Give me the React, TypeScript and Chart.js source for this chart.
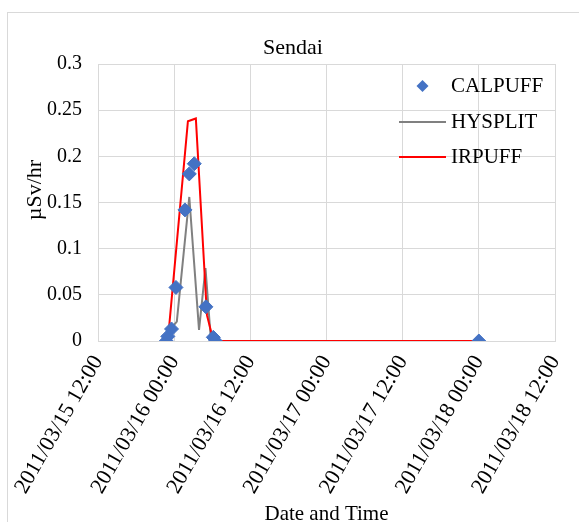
import React, { useEffect, useRef } from "react";
import { Chart, registerables } from "chart.js";

Chart.register(...registerables);

// Axis ticks
const X_TICK_LABELS = [
  "2011/03/15 12:00",
  "2011/03/16 00:00",
  "2011/03/16 12:00",
  "2011/03/17 00:00",
  "2011/03/17 12:00",
  "2011/03/18 00:00",
  "2011/03/18 12:00",
];
const Y_TICKS = [0, 0.05, 0.1, 0.15, 0.2, 0.25, 0.3];

// CALPUFF (markers only)
const CALPUFF_TIMES = [
  "2011/03/15 22:45",
  "2011/03/15 23:00",
  "2011/03/15 23:35",
  "2011/03/16 00:17",
  "2011/03/16 01:42",
  "2011/03/16 02:23",
  "2011/03/16 03:10",
  "2011/03/16 05:00",
  "2011/03/16 06:10",
  "2011/03/16 06:30",
  "2011/03/18 00:00",
];
const CALPUFF_VALUES = [0.0, 0.005, 0.013, 0.058, 0.142, 0.181, 0.192, 0.037, 0.004, 0.0, 0.0];

// HYSPLIT (grey line)
const HYSPLIT_TIMES = [
  "2011/03/15 22:45",
  "2011/03/15 23:05",
  "2011/03/15 23:55",
  "2011/03/16 00:25",
  "2011/03/16 02:23",
  "2011/03/16 03:55",
  "2011/03/16 04:56",
  "2011/03/16 05:48",
  "2011/03/18 00:00",
];
const HYSPLIT_VALUES = [0.0, 0.015, 0.017, 0.021, 0.156, 0.012, 0.079, 0.0, 0.0];

// IRPUFF (red line)
const IRPUFF_TIMES = [
  "2011/03/15 23:00",
  "2011/03/16 02:10",
  "2011/03/16 03:25",
  "2011/03/16 05:10",
  "2011/03/16 06:05",
  "2011/03/16 06:35",
  "2011/03/18 00:00",
];
const IRPUFF_VALUES = [0.0, 0.238, 0.241, 0.028, 0.003, 0.0, 0.0];

const Y_TITLE = "µSv/hr";
const FONT = "'Liberation Serif', 'Times New Roman', serif";
const GRID = "#d9d9d9";

// hours elapsed since the first x tick
function toMs(s: string): number {
  const [d, t] = s.split(" ");
  const [y, mo, da] = d.split("/").map(Number);
  const [h, mi] = t.split(":").map(Number);
  return Date.UTC(y, mo - 1, da, h, mi);
}
const ORIGIN = toMs(X_TICK_LABELS[0]);
const hours = (s: string) => (toMs(s) - ORIGIN) / 3600000;
const toPoints = (times: string[], values: number[]) =>
  times.map((t, i) => ({ x: hours(t), y: values[i] }));

// white page and the light outer frame of the chart
const frame = {
  id: "frame",
  beforeDraw(chart: any) {
    const { ctx, width, height } = chart;
    ctx.save();
    ctx.fillStyle = "#ffffff";
    ctx.fillRect(0, 0, width, height);
    ctx.strokeStyle = GRID;
    ctx.lineWidth = 1;
    ctx.strokeRect(7.5, 12.5, width + 20, height + 20);
    ctx.restore();
  },
};

// vertical axis title, sitting a little above the middle of the plot
const yTitle = {
  id: "yTitle",
  afterDraw(chart: any) {
    const { ctx, chartArea } = chart;
    ctx.save();
    ctx.translate(35, chartArea.top + 126);
    ctx.rotate(-Math.PI / 2);
    ctx.font = `22px ${FONT}`;
    ctx.fillStyle = "#000";
    ctx.textAlign = "center";
    ctx.textBaseline = "middle";
    ctx.fillText(Y_TITLE, 0, 0);
    ctx.restore();
  },
};

// legend inside the plot, top right
const insideLegend = {
  id: "insideLegend",
  afterDatasetsDraw(chart: any) {
    const { ctx, chartArea } = chart;
    const x0 = chartArea.right - 156;
    const x1 = chartArea.right - 109;
    const tx = chartArea.right - 104;
    const rows = [chartArea.top + 22, chartArea.top + 58, chartArea.top + 93];
    ctx.save();
    ctx.font = `21px ${FONT}`;
    ctx.textBaseline = "middle";
    ctx.textAlign = "left";
    chart.data.datasets.forEach((ds: any, i: number) => {
      const y = rows[i];
      if (ds.showLine === false) {
        const cx = (x0 + x1) / 2;
        const r = 6;
        ctx.fillStyle = ds.backgroundColor;
        ctx.beginPath();
        ctx.moveTo(cx - r, y);
        ctx.lineTo(cx, y - r);
        ctx.lineTo(cx + r, y);
        ctx.lineTo(cx, y + r);
        ctx.closePath();
        ctx.fill();
      } else {
        ctx.strokeStyle = ds.borderColor;
        ctx.lineWidth = ds.borderWidth;
        ctx.beginPath();
        ctx.moveTo(x0, y);
        ctx.lineTo(x1, y);
        ctx.stroke();
      }
      ctx.fillStyle = "#000";
      ctx.fillText(ds.label, tx, y);
    });
    ctx.restore();
  },
};

export default function App() {
  const ref = useRef<HTMLCanvasElement>(null);

  useEffect(() => {
    if (!ref.current) return;
    Chart.defaults.font.family = FONT;
    Chart.defaults.color = "#000";
    const chart = new Chart(ref.current, {
      type: "scatter",
      data: {
        datasets: [
          {
            label: "CALPUFF",
            data: toPoints(CALPUFF_TIMES, CALPUFF_VALUES),
            showLine: false,
            pointStyle: "rectRot",
            pointRadius: 7,
            backgroundColor: "#4472c4",
            borderColor: "#4472c4",
            borderWidth: 1,
            order: 0,
          },
          {
            label: "HYSPLIT",
            data: toPoints(HYSPLIT_TIMES, HYSPLIT_VALUES),
            showLine: true,
            pointRadius: 0,
            borderColor: "#808080",
            backgroundColor: "#808080",
            borderWidth: 2,
            order: 2,
          },
          {
            label: "IRPUFF",
            data: toPoints(IRPUFF_TIMES, IRPUFF_VALUES),
            showLine: true,
            pointRadius: 0,
            borderColor: "#ff0000",
            backgroundColor: "#ff0000",
            borderWidth: 2,
            order: 1,
          },
        ],
      },
      options: {
        responsive: false,
        animation: false,
        layout: { padding: { left: 7, right: 0, top: 12, bottom: 0 } },
        plugins: {
          legend: { display: false },
          tooltip: { enabled: false },
          title: {
            display: true,
            text: "Sendai",
            font: { size: 22, weight: "normal" },
            color: "#000",
            padding: { top: 23, bottom: 2.6 },
          },
        },
        scales: {
          x: {
            type: "linear",
            min: hours(X_TICK_LABELS[0]),
            max: hours(X_TICK_LABELS[X_TICK_LABELS.length - 1]),
            afterBuildTicks: (scale: any) => {
              scale.ticks = X_TICK_LABELS.map((l) => ({ value: hours(l) }));
            },
            afterFit: (scale: any) => {
              scale.height = 181;
              scale.paddingLeft = 0;
              scale.paddingRight = 0;
            },
            ticks: {
              autoSkip: false,
              minRotation: 60,
              maxRotation: 60,
              padding: 10,
              font: { size: 22 },
              callback: (_v: any, i: number) => X_TICK_LABELS[i],
            },
            grid: { color: GRID, lineWidth: 1, drawTicks: false },
            border: { color: GRID },
            title: {
              display: true,
              text: "Date and Time",
              font: { size: 21 },
              padding: { top: 0, bottom: -5 },
            },
          },
          y: {
            type: "linear",
            min: Y_TICKS[0],
            max: Y_TICKS[Y_TICKS.length - 1],
            afterBuildTicks: (scale: any) => {
              scale.ticks = Y_TICKS.map((v) => ({ value: v }));
            },
            afterFit: (scale: any) => {
              scale.width = 91;
            },
            ticks: {
              padding: 16,
              font: { size: 20 },
              callback: (v: any) => String(+Number(v).toFixed(2)),
            },
            grid: { color: GRID, lineWidth: 1, drawTicks: false },
            border: { color: GRID },
            title: { display: false },
          },
          y2: {
            type: "linear",
            position: "right",
            display: true,
            ticks: { display: false },
            grid: { display: false },
            border: { display: false },
            afterFit: (scale: any) => {
              scale.width = 24;
            },
          },
        },
      },
      plugins: [frame, insideLegend, yTitle],
    } as any);
    return () => chart.destroy();
  }, []);

  return (
    <div style={{ position: "absolute", left: 0, top: 0, width: 579, height: 522 }}>
      <canvas ref={ref} width={579} height={522} style={{ display: "block" }} />
    </div>
  );
}
